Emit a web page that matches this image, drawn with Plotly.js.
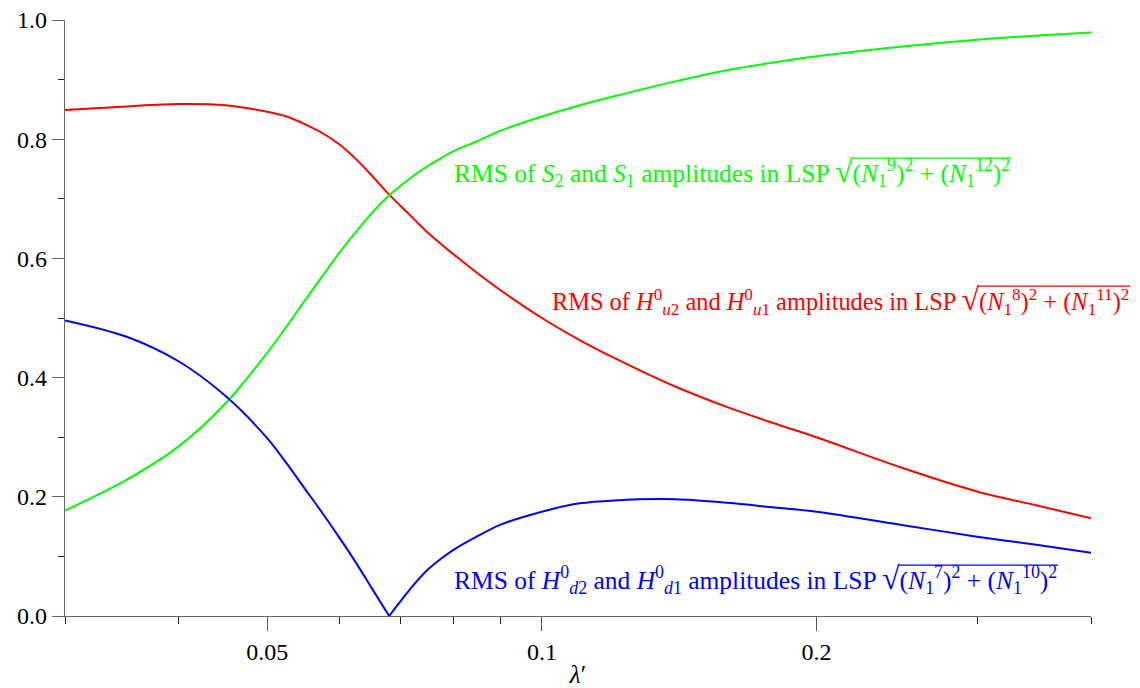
<!DOCTYPE html>
<html>
<head>
<meta charset="utf-8">
<script src="https://cdn.plot.ly/plotly-3.0.1.min.js"></script>
<style>html,body{margin:0;padding:0;background:#fff;}#chart{width:1140px;height:688px;}</style>
</head>
<body>
<div id="chart"></div>
<script>
// lambda' values (log axis)
var lambdaVals = [0.03, 0.035, 0.04, 0.045, 0.05, 0.0525, 0.055, 0.0575, 0.06, 0.0625, 0.065, 0.068, 0.07, 0.0725, 0.075, 0.0775, 0.08, 0.085, 0.09, 0.1, 0.11, 0.12, 0.14, 0.16, 0.18, 0.2, 0.25, 0.3, 0.35, 0.4];
// RMS of H_u2^0 and H_u1^0 amplitudes (red)
var rmsHu = [0.849, 0.855, 0.859, 0.857, 0.846, 0.838, 0.825, 0.810, 0.791, 0.767, 0.740, 0.707, 0.688, 0.665, 0.643, 0.624, 0.607, 0.575, 0.547, 0.500, 0.463, 0.433, 0.385, 0.350, 0.323, 0.300, 0.247, 0.209, 0.185, 0.164];
// RMS of S_2 and S_1 amplitudes (green)
var rmsS = [0.177, 0.228, 0.285, 0.357, 0.442, 0.486, 0.530, 0.571, 0.610, 0.644, 0.675, 0.706, 0.722, 0.740, 0.755, 0.768, 0.780, 0.797, 0.814, 0.838, 0.857, 0.872, 0.897, 0.916, 0.929, 0.939, 0.956, 0.967, 0.974, 0.979];
// RMS of H_d2^0 and H_d1^0 amplitudes (blue)
var rmsHd = [0.496, 0.469, 0.427, 0.369, 0.298, 0.256, 0.213, 0.172, 0.131, 0.090, 0.048, 0.0, 0.025, 0.054, 0.078, 0.096, 0.111, 0.134, 0.153, 0.175, 0.189, 0.194, 0.196, 0.190, 0.182, 0.175, 0.152, 0.133, 0.119, 0.106];

var xMajorTicks = [0.05, 0.1, 0.2];
var xMajorLabels = ['0.05', '0.1', '0.2'];
var xMinorTicks = [0.03, 0.04, 0.06, 0.07, 0.08, 0.09, 0.3, 0.4];
var yMajorTicks = [0, 0.2, 0.4, 0.6, 0.8, 1.0];
var yMajorLabels = ['0.0', '0.2', '0.4', '0.6', '0.8', '1.0'];
var yMinorTicks = [0.1, 0.3, 0.5, 0.7, 0.9];

var ROOT = '<span style="font-size:32px">√</span>';
var labelS = 'RMS of <i>S</i><sub>2</sub> and <i>S</i><sub>1</sub> amplitudes in LSP ' + ROOT + '(<i>N</i><sub>1</sub><sup>9</sup>)<sup>2</sup> + (<i>N</i><sub>1</sub><sup>12</sup>)<sup>2</sup>';
var labelHu = 'RMS of <i>H</i><sup>0</sup><sub><i>u</i>2</sub> and <i>H</i><sup>0</sup><sub><i>u</i>1</sub> amplitudes in LSP ' + ROOT + '(<i>N</i><sub>1</sub><sup>8</sup>)<sup>2</sup> + (<i>N</i><sub>1</sub><sup>11</sup>)<sup>2</sup>';
var labelHd = 'RMS of <i>H</i><sup>0</sup><sub><i>d</i>2</sub> and <i>H</i><sup>0</sup><sub><i>d</i>1</sub> amplitudes in LSP ' + ROOT + '(<i>N</i><sub>1</sub><sup>7</sup>)<sup>2</sup> + (<i>N</i><sub>1</sub><sup>10</sup>)<sup>2</sup>';

var colHu = '#ff0000', colS = '#00ff00', colHd = '#0000ff';

// split blue at its minimum so the cusp stays sharp
var iMin = 0;
for (var i = 1; i < rmsHd.length; i++) if (rmsHd[i] < rmsHd[iMin]) iMin = i;

function tr(x, y, color) {
  return {x: x, y: y, type: 'scatter', mode: 'lines', line: {color: color, width: 2, shape: 'spline', smoothing: 0.9}, showlegend: false, hoverinfo: 'skip'};
}

var data = [
  tr(lambdaVals, rmsHu, colHu),
  tr(lambdaVals, rmsS, colS),
  tr(lambdaVals.slice(0, iMin + 1), rmsHd.slice(0, iMin + 1), colHd),
  tr(lambdaVals.slice(iMin), rmsHd.slice(iMin), colHd)
];

var FAM = "'Liberation Serif', 'DejaVu Serif', serif";
var font = {family: FAM, size: 24, color: '#000'};
var labelSize = 25.5;
var M = {l: 65, r: 49, t: 20, b: 72};
var W = 1140, H = 688;

var layout = {
  width: W, height: H,
  margin: M,
  paper_bgcolor: '#fff', plot_bgcolor: '#fff',
  font: font,
  showlegend: false,
  xaxis: {
    type: 'log',
    range: [Math.log10(0.03), Math.log10(0.4)],
    tickmode: 'array', tickvals: xMajorTicks, ticktext: xMajorLabels,
    ticks: 'outside', ticklen: 14, tickwidth: 1, tickcolor: '#555',
    ticklabelstandoff: 0,
    minor: {tickmode: 'array', tickvals: xMinorTicks, ticks: 'outside', ticklen: 7, tickwidth: 1, tickcolor: '#222', showgrid: false},
    showline: true, linecolor: '#666', linewidth: 1.3,
    showgrid: false, zeroline: false,
    tickfont: font,
    title: {text: '<i>λ</i>′', font: {family: FAM, size: 25, color: '#000'}, standoff: 2}
  },
  yaxis: {
    range: [0, 1],
    tickmode: 'array', tickvals: yMajorTicks, ticktext: yMajorLabels,
    ticks: 'outside', ticklen: 12, tickwidth: 1, tickcolor: '#666',
    minor: {tickmode: 'array', tickvals: yMinorTicks, ticks: 'outside', ticklen: 6, tickwidth: 1, tickcolor: '#222', showgrid: false},
    showline: true, linecolor: '#666', linewidth: 1.3,
    showgrid: false, zeroline: false,
    tickfont: font
  },
  annotations: [
    {x: Math.log10(0.0797), y: 0.745, xref: 'x', yref: 'y', xanchor: 'left', yanchor: 'middle', text: labelS, showarrow: false, font: {family: FAM, size: labelSize, color: colS}},
    {x: Math.log10(0.1021), y: 0.53, xref: 'x', yref: 'y', xanchor: 'left', yanchor: 'middle', text: labelHu, showarrow: false, font: {family: FAM, size: 24.4, color: colHu}},
    {x: Math.log10(0.0797), y: 0.062, xref: 'x', yref: 'y', xanchor: 'left', yanchor: 'middle', text: labelHd, showarrow: false, font: {family: FAM, size: labelSize, color: colHd}}
  ]
};

var gd = document.getElementById('chart');
Plotly.newPlot(gd, data, layout, {staticPlot: true}).then(function () {
  // add the vinculum (overbar) of each square root, measured from the rendered text
  var svg = gd.querySelector('svg.main-svg');
  var svgRect = svg.getBoundingClientRect();
  var pw = W - M.l - M.r, ph = H - M.t - M.b;
  var cols = [colS, colHu, colHd];
  var shapes = [];
  var texts = gd.querySelectorAll('.annotation-text');
  texts.forEach(function (t, k) {
    var s = t.textContent;
    var idx = s.indexOf('√');
    if (idx < 0) return;
    var ext = t.getExtentOfChar(idx);
    var endRoot = t.getEndPositionOfChar(idx);
    var endAll = t.getEndPositionOfChar(s.length - 1);
    var m = t.getScreenCTM();
    var p = svg.createSVGPoint();
    function toScreen(x, y) { p.x = x; p.y = y; var r = p.matrixTransform(m); return [r.x - svgRect.left, r.y - svgRect.top]; }
    var a = toScreen(endRoot.x - 1, ext.y + ext.height * 0.14);
    var b = toScreen(endAll.x + 1, ext.y + ext.height * 0.14);
    shapes.push({type: 'line', xref: 'paper', yref: 'paper',
      x0: (a[0] - M.l) / pw, x1: (b[0] - M.l) / pw,
      y0: (H - M.b - a[1]) / ph, y1: (H - M.b - b[1]) / ph,
      line: {color: cols[k], width: 1.3}});
  });
  return Plotly.relayout(gd, {shapes: shapes});
});
</script>
</body>
</html>
